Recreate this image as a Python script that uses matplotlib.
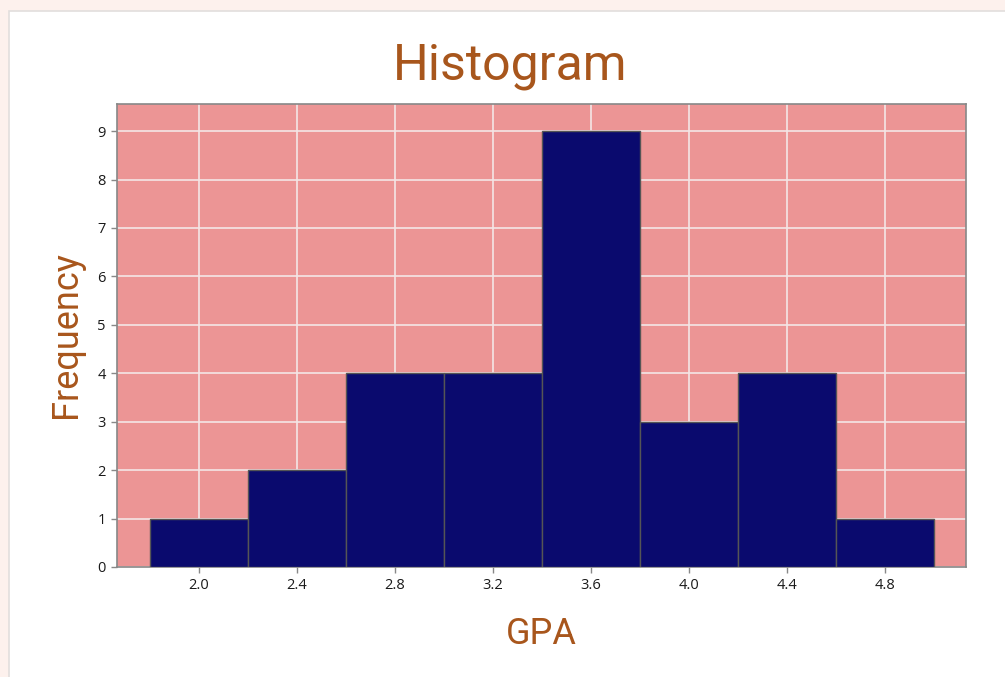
import matplotlib.pyplot as plt
from matplotlib.patches import Rectangle

# histogram bins (GPA) and counts
bin_edges = [1.8, 2.2, 2.6, 3.0, 3.4, 3.8, 4.2, 4.6, 5.0]
counts = [1, 2, 4, 4, 9, 3, 4, 1]
xtick_values = [2.0, 2.4, 2.8, 3.2, 3.6, 4.0, 4.4, 4.8]

brown = '#a8561c'
narrow = ['Liberation Sans Narrow', 'Roboto', 'DejaVu Sans']

fig = plt.figure(figsize=(10.05, 6.77), dpi=100)
fig.patch.set_facecolor('#fdf1ed')

# white panel behind the chart
fig.patches.append(Rectangle((9 / 1005, -0.01), 1.0, (677 - 11) / 677 + 0.01,
                             transform=fig.transFigure, facecolor='white',
                             edgecolor='#e2dedd', linewidth=1.2, zorder=-5))

ax = fig.add_axes([117 / 1005, (677 - 567) / 677,
                   (966 - 117) / 1005, (567 - 104) / 677])
ax.set_zorder(2)
ax.set_facecolor('#ec9595')

widths = [b - a for a, b in zip(bin_edges[:-1], bin_edges[1:])]
ax.bar(bin_edges[:-1], counts, width=widths, align='edge',
       color='#0a0a6e', edgecolor='#555555', linewidth=1.0, zorder=3)

ax.set_xlim(1.665, 5.13)
ax.set_ylim(0, 9.56)
ax.set_xticks(xtick_values)
ax.set_xticklabels(['%.1f' % v for v in xtick_values])
ax.set_yticks(range(0, 10))
ax.grid(True, color='#f4e6e6', linewidth=1.2, zorder=1)
ax.set_axisbelow(True)

for s in ax.spines.values():
    s.set_color('#888888')
    s.set_linewidth(1.2)
ax.tick_params(colors='#888888', length=4, width=1, labelcolor='#1a1a1a',
               labelsize=10.5, pad=4)
for lab in ax.get_xticklabels() + ax.get_yticklabels():
    lab.set_family(['Open Sans', 'DejaVu Sans'])

fig.text(510 / 1005, 1 - 66 / 677, 'Histogram', ha='center', va='center',
         fontsize=36, color=brown, family=narrow)
fig.text(541 / 1005, 1 - 634 / 677, 'GPA', ha='center', va='center',
         fontsize=26, color=brown, family=narrow)
fig.text(66 / 1005, 1 - 335 / 677, 'Frequency', ha='center', va='center',
         rotation=90, fontsize=26, color=brown, family=narrow)

plt.savefig('out.png', dpi=100, facecolor=fig.get_facecolor())
